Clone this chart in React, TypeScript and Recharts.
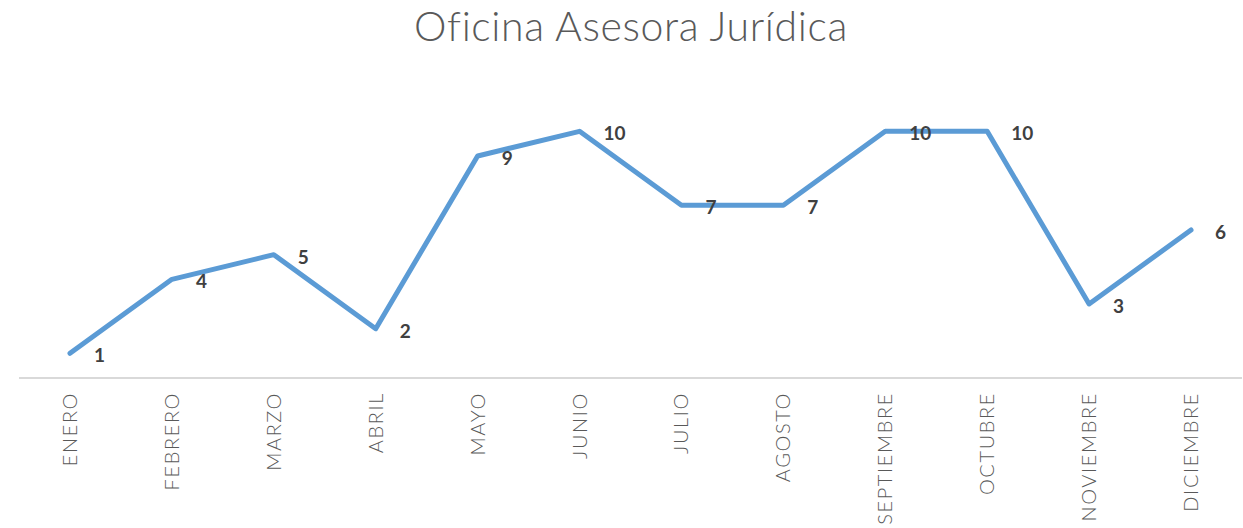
import { LineChart, Line, XAxis, YAxis, LabelList } from "recharts";

const months = [
  "ENERO",
  "FEBRERO",
  "MARZO",
  "ABRIL",
  "MAYO",
  "JUNIO",
  "JULIO",
  "AGOSTO",
  "SEPTIEMBRE",
  "OCTUBRE",
  "NOVIEMBRE",
  "DICIEMBRE",
];
const counts = [1, 4, 5, 2, 9, 10, 7, 7, 10, 10, 3, 6];

const data = months.map((m, i) => ({ month: m, value: counts[i] }));

const MonthTick = (props: any) => {
  const { x, y, payload } = props;
  return (
    <text
      x={0}
      y={0}
      transform={`translate(${x + 7},${y + 6}) rotate(-90)`}
      textAnchor="end"
      fill="#595959"
      fontSize={20}
      fontWeight={300}
      letterSpacing={1.6}
      fontFamily="Lato, 'Open Sans', sans-serif"
    >
      {payload.value}
    </text>
  );
};

const ValueLabel = (props: any) => {
  const { x, y, value } = props;
  return (
    <text
      x={x + 24}
      y={y + 9}
      textAnchor="start"
      fill="#404040"
      fontSize={19}
      fontWeight="bold"
      fontFamily="Lato, 'Open Sans', sans-serif"
    >
      {value}
    </text>
  );
};

export default function App() {
  return (
    <div style={{ position: "absolute", left: 0, top: 0, width: 1243, height: 528, background: "#fff" }}>
      <div
        style={{
          position: "absolute",
          top: 1,
          left: 0,
          width: 1262,
          textAlign: "center",
          fontFamily: "Lato, 'Open Sans', sans-serif",
          fontWeight: 300,
          fontSize: 41,
          letterSpacing: 0.6,
          color: "#595959",
        }}
      >
        Oficina Asesora Jurídica
      </div>
      <LineChart
        width={1243}
        height={528}
        data={data}
        margin={{ top: 82, right: 1, left: 19, bottom: 0 }}
      >
        <XAxis
          dataKey="month"
          height={150}
          interval={0}
          padding={{ left: 51, right: 51 }}
          tickLine={false}
          axisLine={{ stroke: "#d9d9d9", strokeWidth: 2 }}
          tick={<MonthTick />}
        />
        <YAxis hide domain={[0, 12]} />
        <Line
          dataKey="value"
          stroke="#5b9bd5"
          strokeWidth={5}
          strokeLinecap="round"
          strokeLinejoin="round"
          dot={false}
          activeDot={false}
          isAnimationActive={false}
        >
          <LabelList dataKey="value" content={<ValueLabel />} />
        </Line>
      </LineChart>
    </div>
  );
}
